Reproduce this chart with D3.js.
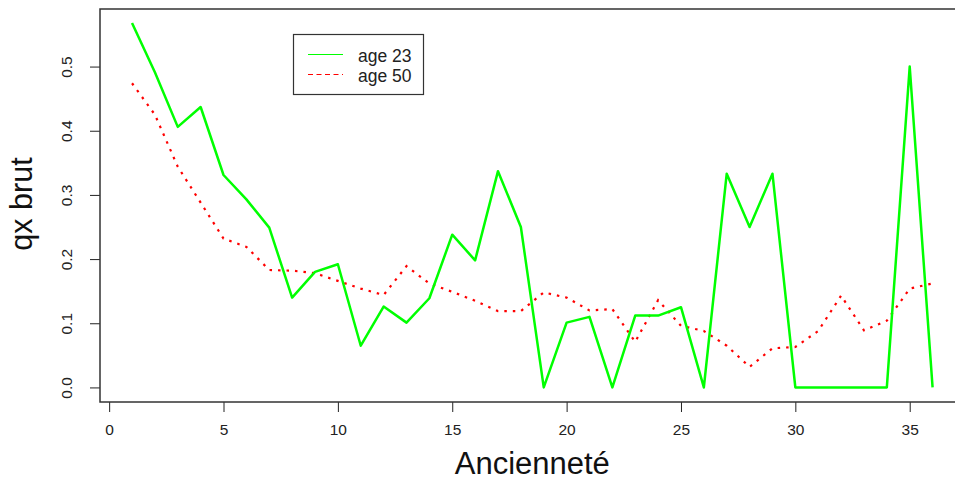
<!DOCTYPE html>
<html>
<head>
<meta charset="utf-8">
<script src="https://cdn.jsdelivr.net/npm/d3@7"></script>
<style>
  body { margin: 0; background: #fff; }
  svg { display: block; font-family: "Liberation Sans", Arial, sans-serif; }
</style>
</head>
<body>
<svg width="955" height="481"></svg>
<script>
const anciennete = d3.range(1, 37);
const age23 = [0.568, 0.491, 0.406, 0.437, 0.331, 0.293, 0.249, 0.140, 0.180, 0.192,
  0.065, 0.126, 0.101, 0.139, 0.238, 0.198, 0.337, 0.250, 0.000, 0.101,
  0.110, 0.000, 0.112, 0.112, 0.125, 0.000, 0.333, 0.250, 0.333, 0.000,
  0.000, 0.000, 0.000, 0.000, 0.500, 0.000];
const age50 = [0.474, 0.425, 0.344, 0.288, 0.232, 0.219, 0.183, 0.182, 0.178, 0.166,
  0.154, 0.144, 0.189, 0.162, 0.149, 0.135, 0.119, 0.119, 0.148, 0.140,
  0.120, 0.122, 0.071, 0.136, 0.096, 0.088, 0.065, 0.032, 0.061, 0.063,
  0.088, 0.143, 0.089, 0.104, 0.154, 0.162];
const xTicks = [0, 5, 10, 15, 20, 25, 30, 35];
const yTicks = [0.0, 0.1, 0.2, 0.3, 0.4, 0.5];

const svg = d3.select("svg");
const mLeft = 100, mRight = 964.6, mTop = 9, mBottom = 402;

// R style 4% padding on both axes
const x = d3.scaleLinear().domain([-0.4, 37.4]).range([mLeft, mRight]);
const y = d3.scaleLinear().domain([-0.0227, 0.5897]).range([mBottom, mTop]);

const xAxis = svg.append("g")
  .attr("transform", `translate(0,${mBottom})`)
  .call(d3.axisBottom(x).tickValues(xTicks).tickSize(10).tickPadding(12).tickFormat(d3.format("d")));
xAxis.select(".domain").remove();
xAxis.selectAll("line").attr("stroke", "#222");
xAxis.selectAll("text").attr("font-size", 15.5).attr("fill", "#222")
  .attr("font-family", "Liberation Sans, Arial, sans-serif");

const yAxis = svg.append("g")
  .attr("transform", `translate(${mLeft},0)`)
  .call(d3.axisLeft(y).tickValues(yTicks).tickSize(10).tickFormat(d3.format(".1f")));
yAxis.select(".domain").remove();
yAxis.selectAll("line").attr("stroke", "#222");
yAxis.selectAll("text")
  .attr("font-size", 15.5).attr("fill", "#222")
  .attr("font-family", "Liberation Sans, Arial, sans-serif")
  .attr("text-anchor", "middle")
  .attr("x", 0).attr("dy", 0)
  .attr("transform", "translate(-32,0) rotate(-90)")
  .attr("dominant-baseline", "middle");

// plot box
svg.append("rect")
  .attr("x", mLeft).attr("y", mTop)
  .attr("width", mRight - mLeft).attr("height", mBottom - mTop)
  .attr("fill", "none").attr("stroke", "#333").attr("stroke-width", 1.5);

const line = vals => d3.line()
  .x((d, i) => x(anciennete[i]))
  .y(d => y(d))(vals);

svg.append("path")
  .attr("d", line(age50))
  .attr("fill", "none").attr("stroke", "#ff0000")
  .attr("stroke-width", 2.2).attr("stroke-dasharray", "2.5,6");

svg.append("path")
  .attr("d", line(age23))
  .attr("fill", "none").attr("stroke", "#00ff00")
  .attr("stroke-width", 2.5).attr("stroke-linejoin", "round");

// legend
const lg = svg.append("g");
lg.append("rect").attr("x", 293.5).attr("y", 34.5).attr("width", 130).attr("height", 60)
  .attr("fill", "#fff").attr("stroke", "#333").attr("stroke-width", 1.2);
lg.append("line").attr("x1", 308).attr("x2", 343).attr("y1", 54.5).attr("y2", 54.5)
  .attr("stroke", "#00ff00").attr("stroke-width", 1.2);
lg.append("line").attr("x1", 308).attr("x2", 343).attr("y1", 74.5).attr("y2", 74.5)
  .attr("stroke", "#ff0000").attr("stroke-width", 1.2).attr("stroke-dasharray", "5,3.5");
lg.append("text").attr("x", 358).attr("y", 62).attr("font-size", 17.5).attr("fill", "#222").text("age 23");
lg.append("text").attr("x", 358).attr("y", 82).attr("font-size", 17.5).attr("fill", "#222").text("age 50");

// axis titles
svg.append("text")
  .attr("x", (mLeft + mRight) / 2).attr("y", 474)
  .attr("text-anchor", "middle").attr("font-size", 31).attr("fill", "#111")
  .text("Ancienneté");
svg.append("text")
  .attr("transform", `translate(32,204) rotate(-90)`)
  .attr("text-anchor", "middle").attr("font-size", 30.5).attr("fill", "#111")
  .text("qx brut");
</script>
</body>
</html>
